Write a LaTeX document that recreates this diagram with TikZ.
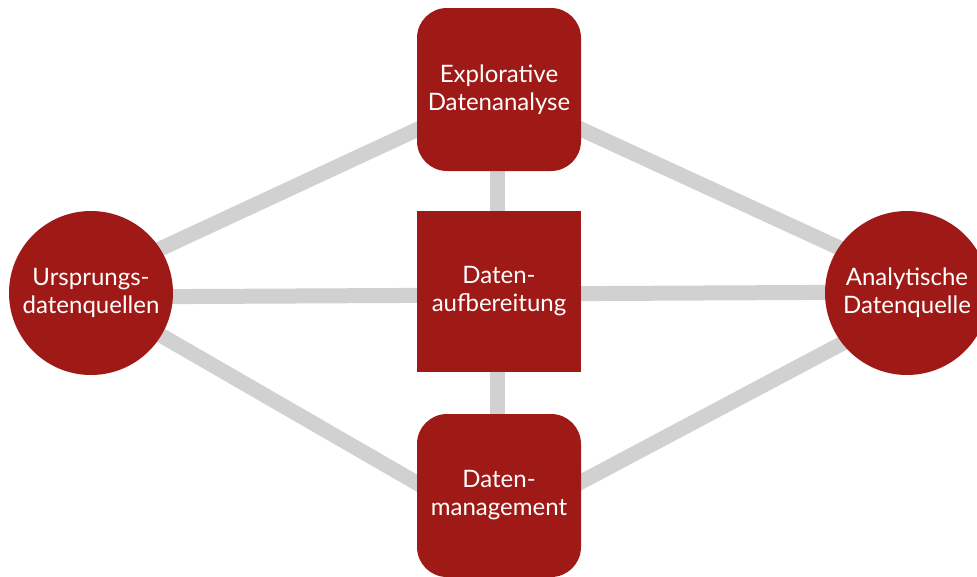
\documentclass[tikz,border=0pt]{standalone}
\usepackage{fontspec}
\setmainfont{Lato}
\usetikzlibrary{calc}
\definecolor{boxred}{HTML}{9F1A16}
\definecolor{conngrey}{HTML}{D1D1D1}
\begin{document}
\begin{tikzpicture}[x=1pt,y=-1pt,
  conn/.style={draw=conngrey,line width=15pt},
  boxtext/.style={text=white,font=\fontsize{24}{28}\selectfont,align=center,inner sep=0pt},
  roundbox/.style={boxtext,fill=boxred,rounded corners=30pt,minimum width=164pt,minimum height=163pt},
  squarebox/.style={boxtext,fill=boxred,minimum width=164pt,minimum height=161pt},
  circbox/.style={boxtext,fill=boxred,circle,minimum size=164pt}]
\useasboundingbox (0,0) rectangle (977,576);
\clip (0,0) rectangle (977,576);
% node positions (pixels, y downwards)
\coordinate (Tc) at (499,89.5);
\coordinate (Mc) at (499,291.5);
\coordinate (Bc) at (499,495.5);
\coordinate (Lc) at (91,293);
\coordinate (Rc) at (907,293);
% connectors (behind the nodes)
\draw[conn] ($(Lc)+(0,-12)$) -- ($(Tc)+(0,2)$);
\draw[conn] ($(Tc)+(0,2)$) -- ($(Rc)+(0,-14)$);
\draw[conn] ($(Lc)+(0,2)$) -- ($(Bc)+(0,35)$);
\draw[conn] ($(Bc)+(0,30)$) -- ($(Rc)+(0,16)$);
\draw[conn] ($(Lc)+(0,4)$) -- ($(Mc)+(0,3.5)$);
\draw[conn] ($(Mc)+(0,2.5)$) -- ($(Rc)+(0,-1)$);
\draw[conn] ($(Tc)+(-1.5,0)$) -- ($(Mc)+(-1.5,0)$);
\draw[conn] ($(Mc)+(-1.5,0)$) -- ($(Bc)+(-1.5,0)$);
% nodes
\node[roundbox] (T) at (Tc) {Explorative\\Datenanalyse};
\node[squarebox] (M) at (Mc) {Daten-\\aufbereitung};
\node[roundbox] (B) at (Bc) {Daten-\\management};
\node[circbox] (L) at (Lc) {Ursprungs-\\datenquellen};
\node[circbox] (R) at (Rc) {Analytische\\Datenquelle};
\end{tikzpicture}
\end{document}
